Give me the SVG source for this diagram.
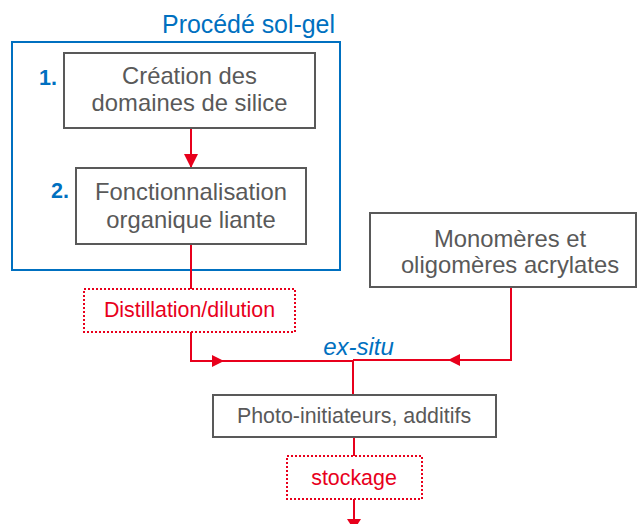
<svg xmlns="http://www.w3.org/2000/svg" width="638" height="524" viewBox="0 0 638 524">
<defs>
<style>
.box{fill:#fff;stroke:#595959;stroke-width:2}
.dot{fill:#fff;stroke:#e8001c;stroke-width:2;stroke-dasharray:2 2}
.t{font-family:"Liberation Sans",Arial,sans-serif;fill:#595959;text-anchor:middle;font-size:23.8px}
.r{font-family:"Liberation Sans",Arial,sans-serif;fill:#e8001c;text-anchor:middle;font-size:21.4px}
.b{font-family:"Liberation Sans",Arial,sans-serif;fill:#0070c0}
.ln{fill:none;stroke:#e8001c;stroke-width:2}
</style>
<marker id="ahl" viewBox="0 0 10 10" refX="10" refY="5" markerWidth="16" markerHeight="14" markerUnits="userSpaceOnUse" orient="auto"><path d="M0,0L10,5L0,10z" fill="#e8001c"/></marker>
</defs>
<g id="solgel">
<rect x="12" y="42" width="328" height="228" fill="none" stroke="#0070c0" stroke-width="2"/>
<text class="b" x="335" y="33" text-anchor="end" font-size="24.9">Procédé sol-gel</text>
</g>
<g id="connectors">
<line class="ln" x1="191" y1="128" x2="191" y2="168" marker-end="url(#ahl)"/>
<polyline class="ln" points="191,244 191,289"/>
<polyline class="ln" points="191,332 191,361 353,361"/>
<path d="M212,355L224,361L212,367z" fill="#e8001c"/>
<polyline class="ln" points="511,287 511,360 353,360"/>
<path d="M460,354L448,360L460,366z" fill="#e8001c"/>
<line class="ln" x1="353" y1="360" x2="353" y2="395"/>
<line class="ln" x1="354" y1="437" x2="354" y2="456"/>
<line class="ln" x1="354" y1="499" x2="354" y2="524"/>
<path d="M347,519L361,519L354,530z" fill="#e8001c"/>
</g>
<g id="n1">
<rect class="box" x="64" y="53" width="251" height="75"/>
<text class="b" x="39" y="85" font-size="21.5" font-weight="bold">1.</text>
<text class="t" x="189.5" y="84">Création des</text>
<text class="t" x="189.5" y="111">domaines de silice</text>
</g>
<g id="n2">
<rect class="box" x="76" y="168" width="230" height="76"/>
<text class="b" x="51" y="198" font-size="21.5" font-weight="bold">2.</text>
<text class="t" x="191" y="200">Fonctionnalisation</text>
<text class="t" x="191" y="228">organique liante</text>
</g>
<g id="distillation">
<rect class="dot" x="84" y="289" width="211" height="43"/>
<text class="r" x="189.5" y="317">Distillation/dilution</text>
</g>
<g id="monomeres">
<rect class="box" x="370" y="213" width="266" height="74"/>
<text class="t" x="510" y="247">Monomères et</text>
<text class="t" x="510" y="273">oligomères acrylates</text>
</g>
<g id="exsitu">
<text class="b" x="358.5" y="355" text-anchor="middle" font-size="24" font-style="italic">ex-situ</text>
</g>
<g id="photo">
<rect class="box" x="213" y="395" width="283" height="42"/>
<text class="t" x="354" y="423" style="font-size:21.4px">Photo-initiateurs, additifs</text>
</g>
<g id="stockage">
<rect class="dot" x="287" y="456" width="135" height="43"/>
<text class="r" x="354" y="485">stockage</text>
</g>
</svg>
